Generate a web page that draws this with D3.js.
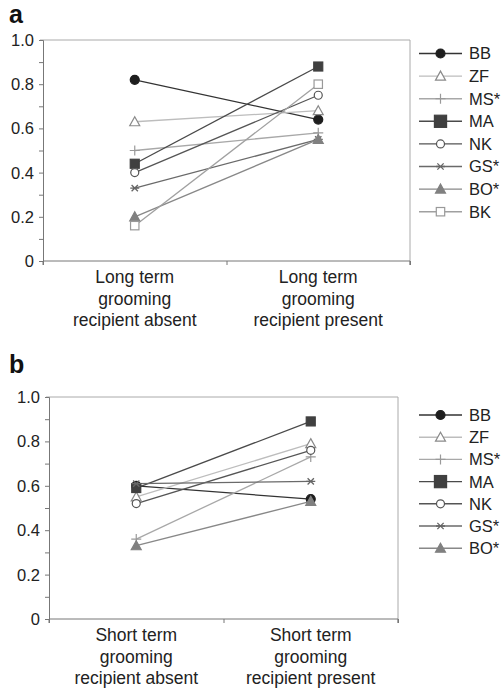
<!DOCTYPE html>
<html><head><meta charset="utf-8">
<script src="https://cdn.jsdelivr.net/npm/d3@7"></script>
<style>body{margin:0;background:#fff;} text{font-family:"Liberation Sans",Arial,sans-serif;}</style>
</head><body>
<svg id="chart" width="504" height="691"></svg>
<script>
const seriesNames = ["BB","ZF","MS*","MA","NK","GS*","BO*","BK"];
const longCategories = [["Long term","grooming","recipient absent"],["Long term","grooming","recipient present"]];
const shortCategories = [["Short term","grooming","recipient absent"],["Short term","grooming","recipient present"]];
const longAbsent  = [0.82,0.63,0.50,0.44,0.40,0.33,0.20,0.16];
const longPresent = [0.64,0.68,0.58,0.88,0.75,0.55,0.55,0.80];
const shortAbsent  = [0.60,0.55,0.36,0.59,0.52,0.61,0.33];
const shortPresent = [0.54,0.79,0.73,0.89,0.76,0.62,0.53];
const yTicks = [0,0.2,0.4,0.6,0.8,1.0];
const yTickLabels = ["0","0.2","0.4","0.6","0.8","1.0"];

const styles = {
  "BB":  {color:"#1e1e1e", line:"#333", shape:"circle", fill:true},
  "ZF":  {color:"#8a8a8a", line:"#bdbdbd", shape:"triangle", fill:false},
  "MS*": {color:"#9a9a9a", line:"#a8a8a8", shape:"plus", fill:false},
  "MA":  {color:"#404040", line:"#4a4a4a", shape:"square", fill:true},
  "NK":  {color:"#555", line:"#555", shape:"circle", fill:false},
  "GS*": {color:"#666", line:"#6a6a6a", shape:"star", fill:false},
  "BO*": {color:"#808080", line:"#888", shape:"triangle", fill:true},
  "BK":  {color:"#999", line:"#a0a0a0", shape:"square", fill:false}
};

const svg = d3.select("#chart");

function drawMarker(g, name, x, y, scale){
  const s = styles[name];
  const k = scale || 1;
  if (s.shape === "circle") {
    g.append("circle").attr("cx",x).attr("cy",y).attr("r",(s.fill?4.5:4)*k)
      .attr("fill", s.fill ? s.color : "#fff").attr("stroke", s.color).attr("stroke-width",1.2);
  } else if (s.shape === "square") {
    const h = (s.fill ? 4.5 : 4.2)*k;
    g.append("rect").attr("x",x-h).attr("y",y-h).attr("width",2*h).attr("height",2*h)
      .attr("fill", s.fill ? s.color : "#fff").attr("stroke", s.color).attr("stroke-width",1.2);
  } else if (s.shape === "triangle") {
    const h = 5*k;
    g.append("path").attr("d", `M${x},${y-h}L${x+h},${y+h*0.8}L${x-h},${y+h*0.8}Z`)
      .attr("fill", s.fill ? s.color : "#fff").attr("stroke", s.color).attr("stroke-width",1.2);
  } else if (s.shape === "plus") {
    const h = 5*k;
    g.append("path").attr("d", `M${x-h},${y}H${x+h}M${x},${y-h}V${y+h}`)
      .attr("stroke", s.color).attr("stroke-width",1.2).attr("fill","none");
  } else if (s.shape === "star") {
    const h = 4.5*k;
    g.append("path").attr("d", `M${x-h},${y}H${x+h}M${x-h*0.7},${y-h*0.7}L${x+h*0.7},${y+h*0.7}M${x-h*0.7},${y+h*0.7}L${x+h*0.7},${y-h*0.7}`)
      .attr("stroke", s.color).attr("stroke-width",1.3).attr("fill","none");
  }
}

function drawPanel(cfg){
  const {label, labelY, left, right, top, bottom, names, absent, present, cats, legendTop, legendStep} = cfg;
  const g = svg.append("g");
  const x = d3.scaleBand().domain([0,1]).range([left,right]);
  const y = d3.scaleLinear().domain([0,1]).range([bottom,top]);

  g.append("text").attr("x",9).attr("y",labelY).attr("font-size",25).attr("font-weight","bold").attr("fill","#111").text(label);

  g.append("path").attr("d",`M${left-3},${top}H${right}V${bottom+4}`).attr("fill","none").attr("stroke","#aaa").attr("stroke-width",1);

  const ya = d3.axisLeft(y).tickValues(d3.range(0,1.0001,0.1)).tickSize(4).tickFormat("");
  const yg = g.append("g").attr("transform",`translate(${left},0)`).call(ya);
  yg.selectAll("path,line").attr("stroke","#777");
  yTicks.forEach((v,i)=>{
    g.append("text").attr("x",left-9).attr("y",y(v)).attr("dy","0.36em").attr("text-anchor","end")
      .attr("font-size",16.5).attr("fill","#222").text(yTickLabels[i]);
  });

  const xl = d3.scaleLinear().domain([0,2]).range([left,right]);
  const xa = d3.axisBottom(xl).tickValues([0,1,2]).tickSize(4).tickFormat("");
  const xg = g.append("g").attr("transform",`translate(0,${bottom})`).call(xa);
  xg.selectAll("path,line").attr("stroke","#777");
  xg.select("path").attr("d",`M${left},${4}V0H${right}V4`);

  cats.forEach((lines,i)=>{
    const cx = x(i) + x.bandwidth()/2;
    lines.forEach((t,j)=>{
      g.append("text").attr("x",cx).attr("y",bottom+22+j*21.5).attr("text-anchor","middle")
        .attr("font-size",17.5).attr("fill","#222").text(t);
    });
  });

  const x0 = x(0)+x.bandwidth()/2, x1 = x(1)+x.bandwidth()/2;
  names.forEach((n,i)=>{
    g.append("line").attr("x1",x0).attr("y1",y(absent[i])).attr("x2",x1).attr("y2",y(present[i]))
      .attr("stroke",styles[n].line).attr("stroke-width",1.3);
  });
  names.forEach((n,i)=>{
    drawMarker(g,n,x0,y(absent[i]));
    drawMarker(g,n,x1,y(present[i]));
  });

  names.forEach((n,i)=>{
    const ly = legendTop + i*legendStep;
    g.append("line").attr("x1",419).attr("x2",462).attr("y1",ly).attr("y2",ly)
      .attr("stroke",styles[n].line).attr("stroke-width",1.4);
    drawMarker(g,n,440.5,ly, n==="MA"?1.35:1);
    g.append("text").attr("x",469).attr("y",ly).attr("dy","0.36em").attr("font-size",16.5).attr("fill","#222").text(n);
  });
}

drawPanel({label:"a", labelY:23, left:43, right:410, top:40, bottom:261,
  names:seriesNames, absent:longAbsent, present:longPresent, cats:longCategories,
  legendTop:53.5, legendStep:22.6});
drawPanel({label:"b", labelY:373, left:49, right:398, top:397, bottom:619,
  names:seriesNames.slice(0,7), absent:shortAbsent, present:shortPresent, cats:shortCategories,
  legendTop:415, legendStep:22.2});
</script>
</body></html>
